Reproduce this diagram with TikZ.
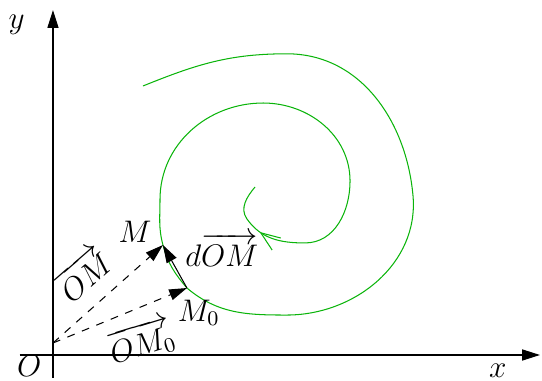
\documentclass[tikz,border=0pt]{standalone}
\usepackage{amsmath,amssymb}
\usetikzlibrary{arrows.meta,decorations.markings}
\definecolor{spiralgreen}{RGB}{10,180,10}

\begin{document}
\begin{tikzpicture}[>={Triangle[length=2.4mm,width=1.5mm]},
    every node/.style={font=\large}]
  \useasboundingbox (-0.716,-0.338) rectangle (6.608,4.797);
  % Axes
  \coordinate (xs) at (-0.45,0);
  \coordinate (xe) at (6.58,0);
  \coordinate (ys) at (0,-0.31);
  \coordinate (ye) at (0,4.66);
  \draw[->] (xs) -- (xe);
  \draw[->] (ys) -- (ye);
  \node (lO) at (-0.32,-0.15) {$O$};
  \node (lx) at (6.01,-0.21) {$x$};
  \node (ly) at (-0.49,4.46) {$y$};

  % Points on the curve
  \coordinate (S) at (0,0.162);
  \coordinate (M) at (1.486,1.486);
  \coordinate (M0) at (1.81,0.905);

  % Spiral
  \draw[spiralgreen, decoration={markings,
      mark=at position 0.956 with {\arrow{Straight Barb[length=2.6mm,width=2mm]}}},
      postaction={decorate}]
    (1.216,3.635) to[out=22,in=180] (3.16,4.07)
    to[out=0,in=95] (4.865,2.15)
    to[out=-85,in=0] (3.16,0.54)
    to[out=180,in=-40] (M0)
    to[out=130,in=-75] (M)
    to[out=105,in=-90] (1.446,2.1)
    to[out=90,in=180] (2.84,3.405)
    to[out=0,in=90] (4.014,2.35)
    to[out=-90,in=0] (3.405,1.514)
    to[out=180,in=-55] (2.62,1.84)
    to[out=125,in=-130] (2.73,2.27);

  % Vectors
  \draw[dashed,->] (S) -- (M);
  \draw[dashed,->] (S) -- (M0);
  \draw[->] (M0) -- (M);

  \node (lM) at (1.11,1.66) {$M$};
  \node (lM0) at (1.97,0.57) {$M_0$};
  \node (ldOM) at (2.28,1.42) {$d\overrightarrow{OM}$};
  \node[rotate=41] (lOM) at (0.40,1.10) {$\overrightarrow{OM}$};
  \node[rotate=17] (lOM0) at (1.19,0.18) {$\overrightarrow{OM_0}$};
\end{tikzpicture}
\end{document}
